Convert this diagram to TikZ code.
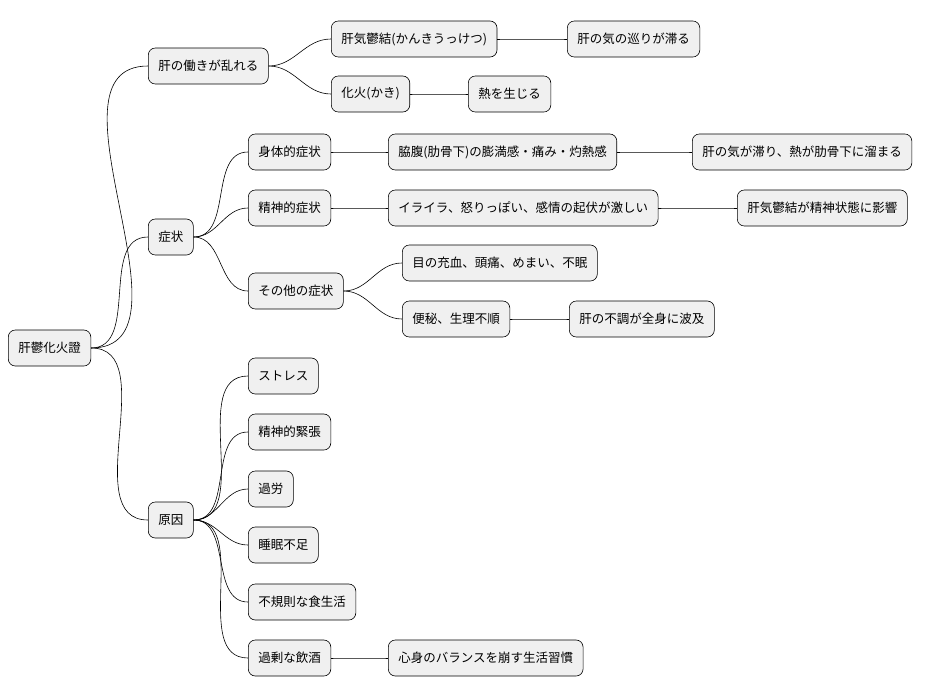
\documentclass[tikz,border=0pt]{standalone}
\usepackage{fontspec}
\setmainfont{Noto Sans CJK JP}
\begin{document}
\begin{tikzpicture}[x=1pt,y=-1pt,
  box/.style={draw=black,line width=0.6pt,fill=black!6,rounded corners=7pt,minimum height=36pt,inner xsep=10pt,anchor=west,font=\fontsize{12.5}{14}\selectfont},
  con/.style={draw=black,line width=0.6pt}]
\useasboundingbox (0,0) rectangle (947,696);
\node[box] (r) at (8,348) {肝鬱化火證};
\node[box] (a) at (148,66) {肝の働きが乱れる};
\node[box] (a1) at (331,39) {肝気鬱結(かんきうっけつ)};
\node[box] (a1a) at (567,39) {肝の気の巡りが滞る};
\node[box] (a2) at (331,94) {化火(かき)};
\node[box] (a2a) at (468,94) {熱を生じる};
\node[box] (b) at (148,237) {症状};
\node[box] (b1) at (248,152) {身体的症状};
\node[box] (b1a) at (388,152) {脇腹(肋骨下)の膨満感・痛み・灼熱感};
\node[box] (b1b) at (692,152) {肝の気が滞り、熱が肋骨下に溜まる};
\node[box] (b2) at (248,208) {精神的症状};
\node[box] (b2a) at (388,208) {イライラ、怒りっぽい、感情の起伏が激しい};
\node[box] (b2b) at (737,208) {肝気鬱結が精神状態に影響};
\node[box] (b3) at (248,291) {その他の症状};
\node[box] (b3a) at (402,263) {目の充血、頭痛、めまい、不眠};
\node[box] (b3b) at (402,319) {便秘、生理不順};
\node[box] (b3c) at (569,319) {肝の不調が全身に波及};
\node[box] (c) at (148,520) {原因};
\node[box] (c1) at (248,376) {ストレス};
\node[box] (c2) at (248,432) {精神的緊張};
\node[box] (c3) at (248,489) {過労};
\node[box] (c4) at (248,545) {睡眠不足};
\node[box] (c5) at (248,602) {不規則な食生活};
\node[box] (c6) at (248,658) {過剰な飲酒};
\node[box] (c6a) at (388,658) {心身のバランスを崩す生活習慣};
\foreach \p/\c in {r/a,r/b,r/c,a/a1,a/a2,a1/a1a,a2/a2a,b/b1,b/b2,b/b3,b1/b1a,b1a/b1b,b2/b2a,b2a/b2b,b3/b3a,b3/b3b,b3b/b3c,c/c1,c/c2,c/c3,c/c4,c/c5,c/c6,c6/c6a}
  \draw[con] (\p.east) to[out=0,in=180] (\c.west);
\end{tikzpicture}
\end{document}
